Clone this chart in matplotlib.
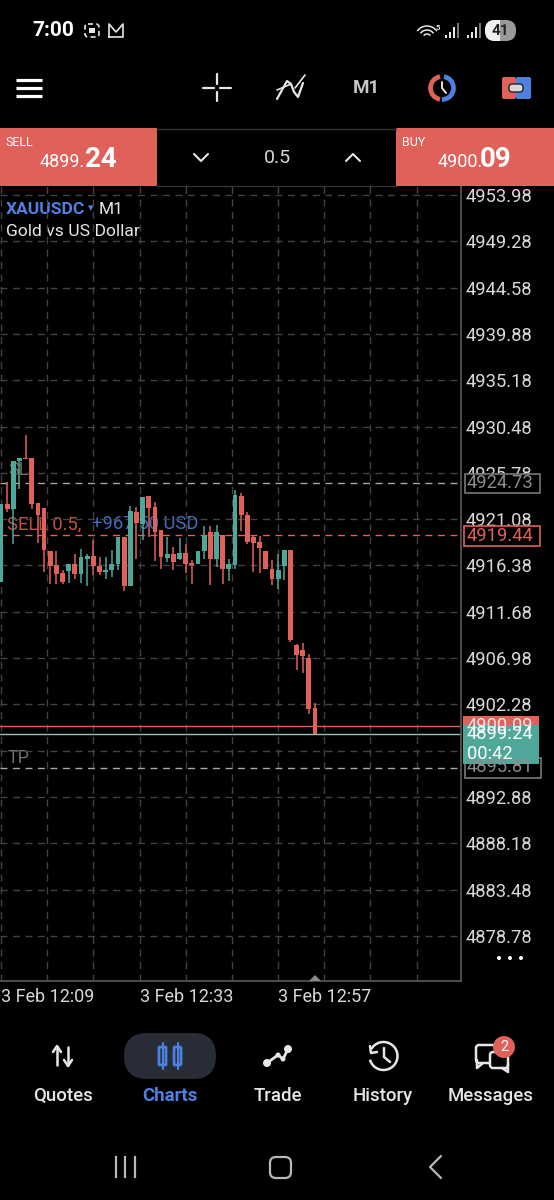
import matplotlib
matplotlib.use('Agg')
import matplotlib.pyplot as plt
from matplotlib.patches import Rectangle, FancyBboxPatch, Circle, Arc, Polygon

plt.rcParams['font.family'] = ['Roboto', 'DejaVu Sans']

# candles, oldest first
opens = [4914.69, 4922.64, 4922.13, 4926.97, 4927.27, 4927.30, 4922.70, 4922.23, 4917.83, 4916.38,
         4915.64, 4915.81, 4916.48, 4915.47, 4917.06, 4917.39, 4916.35, 4915.70, 4915.87, 4916.48,
         4919.25, 4914.28, 4921.79, 4920.61, 4923.38, 4922.30, 4920.00, 4917.16, 4917.56, 4917.06,
         4917.67, 4916.65, 4916.48, 4917.83, 4919.73, 4917.06, 4919.52, 4916.04, 4916.38, 4923.48,
         4921.55, 4919.25, 4918.75, 4917.83, 4916.04, 4914.96, 4916.28, 4917.90, 4908.26, 4907.82,
         4907.01, 4901.94]
closes = [4922.57, 4922.13, 4927.03, 4927.30, 4927.17, 4922.57, 4921.52, 4917.90, 4916.28, 4915.53,
          4914.69, 4916.48, 4915.47, 4917.23, 4917.39, 4916.28, 4915.70, 4915.94, 4916.55, 4919.25,
          4914.28, 4921.89, 4920.71, 4923.31, 4922.23, 4919.76, 4917.23, 4917.50, 4916.72, 4917.67,
          4916.55, 4916.38, 4917.83, 4919.42, 4917.06, 4919.73, 4916.04, 4916.55, 4923.58, 4921.55,
          4918.75, 4918.71, 4918.17, 4916.04, 4914.96, 4915.87, 4917.90, 4908.84, 4907.25, 4907.18,
          4901.77, 4899.24]
highs = [4922.57, 4924.83, 4927.03, 4927.30, 4929.67, 4927.30, 4922.70, 4922.23, 4917.83, 4917.83,
         4915.87, 4916.48, 4917.56, 4918.07, 4917.56, 4918.98, 4917.29, 4917.23, 4917.90, 4919.25,
         4919.25, 4922.37, 4922.30, 4923.31, 4923.38, 4922.80, 4920.00, 4919.25, 4918.24, 4919.19,
         4918.51, 4916.89, 4917.83, 4920.34, 4920.34, 4920.44, 4919.52, 4917.06, 4924.06, 4923.72,
         4921.79, 4919.42, 4919.42, 4917.83, 4916.89, 4917.56, 4918.00, 4917.90, 4908.43, 4908.50,
         4907.35, 4902.45]
lows = [4914.69, 4921.79, 4918.58, 4924.16, 4927.17, 4922.13, 4918.65, 4915.70, 4914.52, 4914.52,
        4914.52, 4914.59, 4915.03, 4914.59, 4914.25, 4915.37, 4915.37, 4915.03, 4915.20, 4915.87,
        4913.78, 4914.28, 4917.06, 4918.98, 4919.25, 4916.82, 4916.04, 4916.72, 4915.94, 4916.95,
        4915.60, 4914.52, 4916.48, 4917.06, 4914.35, 4916.21, 4914.52, 4914.79, 4916.04, 4919.86,
        4918.51, 4915.70, 4915.60, 4916.04, 4914.35, 4914.00, 4914.93, 4908.60, 4905.80, 4905.46,
        4901.33, 4899.24]

price_ticks = [4953.98, 4949.28, 4944.58, 4939.88, 4935.18, 4930.48, 4925.78, 4921.08, 4916.38,
               4911.68, 4906.98, 4902.28, 4897.58, 4892.88, 4888.18, 4883.48, 4878.78]
time_labels = ['3 Feb 12:09', '', '', '3 Feb 12:33', '', '', '3 Feb 12:57', '', '', '']

sl_price = 4924.73
sell_price = 4919.44
ask_price = 4900.09
bid_price = 4899.24
tp_price = 4895.81

RED = '#e0605a'
GREEN = '#4fa79a'
BLUE = '#4f80e0'
WHITE = '#e6e6e6'
GRID = '#424242'
DIM = '#8c8c8c'

W, H = 554, 1200
CHART_R, CHART_T, CHART_B = 461, 186, 981


def pixel_axes(z):
    a = fig.add_axes([0, 0, 1, 1], zorder=z)
    a.set_xlim(0, W)
    a.set_ylim(H, 0)
    a.axis('off')
    a.patch.set_alpha(0)
    return a


fig = plt.figure(figsize=(W / 100, H / 100), dpi=100, facecolor='black')

# texts that the candles run over
bg = pixel_axes(0)
bg.text(6, 209, 'XAUUSDC', color=BLUE, fontsize=12.5, fontweight='bold', va='center')
bg.text(88, 208, '\u25be', color=BLUE, fontsize=8, va='center', family=['DejaVu Sans'])
bg.text(99, 209, 'M1', color=WHITE, fontsize=12.5, va='center')
bg.text(6, 231, 'Gold vs US Dollar', color=WHITE, fontsize=12.6, va='center')
bg.text(8, 470, 'SL', color='#707070', fontsize=13, va='center')
bg.text(7, 524, 'SELL 0.5,', color=RED, fontsize=13.2, va='center', alpha=0.85)
bg.text(92, 524, '+967.50 USD', color=BLUE, fontsize=13.2, va='center', alpha=0.85)
bg.text(8, 758, 'TP', color='#707070', fontsize=13, va='center')

# price chart
ax = fig.add_axes([0, 1 - CHART_B / H, CHART_R / W, (CHART_B - CHART_T) / H], zorder=1)
ax.patch.set_alpha(0)
ax.set_xlim(-0.16, 74.7)
ax.set_ylim(4874.21, 4954.89)

xs = list(range(len(opens)))
colors = [GREEN if c >= o else RED for o, c in zip(opens, closes)]
bottoms = [min(o, c) for o, c in zip(opens, closes)]
heights = [abs(c - o) for o, c in zip(opens, closes)]
ax.vlines(xs, lows, highs, colors=colors, linewidth=1.1, zorder=3)
ax.bar(xs, heights, bottom=bottoms, width=0.78, color=colors, linewidth=0, zorder=4)

ax.axhline(sl_price, color='#a8a8a8', lw=1.0, ls=(0, (5, 4)), zorder=2)
ax.axhline(sell_price, color=RED, lw=1.0, ls=(0, (5, 4)), zorder=2)
ax.axhline(ask_price, color=RED, lw=1.0, zorder=2)
ax.axhline(bid_price, color='#8fc4bb', lw=1.0, zorder=2)
ax.axhline(tp_price, color='#a8a8a8', lw=1.0, ls=(0, (5, 4)), zorder=2)

ax.yaxis.tick_right()
ax.set_yticks(price_ticks, [f'{p:.2f}' for p in price_ticks])
ax.set_xticks([7.5 * k for k in range(len(time_labels))], time_labels)
ax.tick_params(axis='y', length=0, pad=3, labelsize=13.2, labelcolor='#d8d8d8')
ax.tick_params(axis='x', length=0, pad=5, labelsize=13, labelcolor='#d8d8d8')
for lab in ax.get_xticklabels():
    lab.set_ha('left')
ax.grid(True, color=GRID, lw=1.0, ls=(0, (5, 4)), zorder=0)
ax.set_axisbelow(True)
for side in ['top', 'left']:
    ax.spines[side].set_visible(False)
for side in ['right', 'bottom']:
    ax.spines[side].set_color('#5a5a5a')
    ax.spines[side].set_linewidth(1.2)

# app chrome on top
ui = pixel_axes(2)


def box(x0, y0, x1, y1, fc='black', ec='none', lw=1.0):
    ui.add_patch(Rectangle((x0, y0), x1 - x0, y1 - y0, fc=fc, ec=ec, lw=lw))


def line(xv, yv, color=WHITE, lw=1.6):
    ui.plot(xv, yv, color=color, lw=lw, solid_capstyle='round', solid_joinstyle='round')


# status bar
ui.text(32, 30, '7:00', color='white', fontsize=15, fontweight='bold', va='center')
ui.add_patch(FancyBboxPatch((85, 24), 14, 13, boxstyle='round,pad=0,rounding_size=3', fc='none', ec=WHITE, lw=1.2, ls=(0, (3, 2))))
ui.add_patch(Rectangle((89, 28), 6, 5, fc=WHITE))
line([109, 109, 116, 123, 123, 109], [37, 24, 32, 24, 37, 37], lw=1.2)
for r in [4, 8, 12]:
    ui.add_patch(Arc((427, 38), r * 2, r * 2, theta1=215, theta2=325, color=WHITE, lw=1.1))
ui.text(436, 27, '5', color=WHITE, fontsize=5.5, va='center', fontweight='bold')
for x0 in [445, 467]:
    for j, h_bar in enumerate([3, 6, 11, 15]):
        c = WHITE if j < 3 else '#777777'
        ui.add_patch(Rectangle((x0 + j * 4, 38 - h_bar), 1.6, h_bar, fc=c))
ui.add_patch(FancyBboxPatch((485, 20), 31, 21, boxstyle='round,pad=0,rounding_size=10', fc='#9a9a9a', ec='none'))
clip_rect = Rectangle((485, 20), 15, 21, transform=ui.transData)
white_half = FancyBboxPatch((485, 20), 31, 21, boxstyle='round,pad=0,rounding_size=10', fc='#f0f0f0', ec='none')
ui.add_patch(white_half)
white_half.set_clip_path(clip_rect)
ui.text(500.5, 31, '41', color='#222222', fontsize=11, fontweight='bold', ha='center', va='center')

# toolbar
for y in [80, 88, 96]:
    ui.plot([16, 42], [y, y], color='white', lw=2.3, solid_capstyle='butt')
for xv, yv in [([203, 214], [88, 88]), ([220, 231], [88, 88]), ([217, 217], [74, 84]), ([217, 217], [92, 101])]:
    line(xv, yv, lw=1.6)
line([277, 282, 287, 291, 294, 298, 303], [99, 90, 81, 84, 92, 97, 83], lw=1.6)
line([277, 291], [90, 84], lw=1.2)
line([295, 305], [88, 75], lw=1.2)
ui.text(366, 88, 'M1', color='#c8c8c8', fontsize=13.5, fontweight='bold', ha='center', va='center')
ui.add_patch(Arc((442, 88), 23, 23, theta1=100, theta2=260, color=RED, lw=3.4))
ui.add_patch(Arc((442, 88), 23, 23, theta1=-80, theta2=90, color=BLUE, lw=3.4))
line([442, 442, 446], [82, 88, 93], lw=1.4)
ui.add_patch(FancyBboxPatch((502, 77), 14, 22, boxstyle='round,pad=0,rounding_size=2', fc=RED, ec='none'))
ui.add_patch(FancyBboxPatch((516, 77), 15, 22, boxstyle='round,pad=0,rounding_size=2', fc=BLUE, ec='none'))
ui.add_patch(FancyBboxPatch((509, 84), 14, 8, boxstyle='round,pad=0,rounding_size=3', fc='#d8d8d8', ec='#222222', lw=1))

# order bar
box(0, 128, 157, 186, fc=RED)
box(396, 128, 554, 186, fc=RED)
ui.plot([157, 396], [128.5, 128.5], color='#333333', lw=1)
ui.plot([157, 396], [185.5, 185.5], color='#333333', lw=1)
ui.text(6, 142, 'SELL', color='white', fontsize=9, va='center')
ui.text(402, 142, 'BUY', color='white', fontsize=9, va='center')
ui.text(40, 167, '4899.', color='white', fontsize=13, va='baseline')
ui.text(85, 167, '24', color='white', fontsize=20, fontweight='bold', va='baseline')
ui.text(438, 167, '4900.', color='white', fontsize=13, va='baseline')
ui.text(480, 167, '09', color='white', fontsize=20, fontweight='bold', va='baseline')
ui.text(277, 158, '0.5', color='#d8d8d8', fontsize=14, ha='center', va='center')
line([194, 201, 208], [154, 161, 154], lw=1.5)
line([346, 353, 360], [161, 154, 161], lw=1.5)

# price boxes
box(465, 474, 540, 493, ec='#777777', lw=1.2)
ui.text(467, 483.5, f'{sl_price:.2f}', color=DIM, fontsize=13.2, va='center')
box(464, 526, 540, 546, ec=RED, lw=1.2)
ui.text(467, 536, f'{sell_price:.2f}', color=RED, fontsize=13.2, va='center')
box(465, 758, 541, 778, ec='#777777', lw=1.2)
ui.text(467, 767, f'{tp_price:.2f}', color=DIM, fontsize=13.2, va='center')
box(463, 716, 539, 736, fc=RED)
ui.text(467, 726, f'{ask_price:.2f}', color=WHITE, fontsize=13.2, va='center')
box(463, 725, 539, 764, fc=GREEN)
ui.text(467, 734, f'{bid_price:.2f}', color='white', fontsize=13.2, va='center')
ui.text(467, 754, '00:42', color='white', fontsize=13.2, va='center')

ui.add_patch(Polygon([[309, 981], [315, 975], [321, 981]], fc='#8a8a8a', ec='none'))
ui.add_patch(Circle((499, 958), 2, fc='white'))
ui.add_patch(Circle((510, 958), 2, fc='white'))
ui.add_patch(Circle((521, 958), 2, fc='white'))

# bottom navigation
ui.add_patch(FancyBboxPatch((124, 1033), 92, 46, boxstyle='round,pad=0,rounding_size=23', fc='#272c36', ec='none'))
for x_lab, name, col in [(62.5, 'Quotes', WHITE), (169.5, 'Charts', BLUE), (277.5, 'Trade', WHITE),
                         (383, 'History', WHITE), (491, 'Messages', WHITE)]:
    ui.text(x_lab, 1101, name, color=col, fontsize=13.4, fontweight='bold' if col == BLUE else 'medium',
            ha='center', va='baseline')

line([57, 57], [1047, 1065], lw=1.8)
line([53, 57, 61], [1052, 1046, 1052], lw=1.8)
line([68, 68], [1047, 1065], lw=1.8)
line([64, 68, 72], [1060, 1066, 1060], lw=1.8)

for xc in [162.5, 177.5]:
    line([xc, xc], [1043, 1069], color=BLUE, lw=1.5)
    ui.add_patch(FancyBboxPatch((xc - 3.5, 1047), 7, 18, boxstyle='round,pad=0,rounding_size=1', fc='none', ec=BLUE, lw=2))

line([267, 278, 283, 288], [1063, 1055, 1059, 1049], lw=2)
for xc, yc, r in [(267, 1063, 4), (278, 1055, 2.5), (283, 1059, 2.5), (288, 1049, 4)]:
    ui.add_patch(Circle((xc, yc), r, fc=WHITE))

ui.add_patch(Arc((383.5, 1056), 28, 28, theta1=-150, theta2=165, color=WHITE, lw=1.8))
line([370, 371, 377], [1046, 1053, 1052], lw=1.8)
line([384, 384, 390], [1048, 1057, 1062], lw=1.8)

ui.add_patch(FancyBboxPatch((476, 1045), 22, 18, boxstyle='round,pad=0,rounding_size=3', fc='none', ec=WHITE, lw=1.8))
line([477, 477, 483], [1060, 1068, 1063], lw=1.8)
ui.add_patch(FancyBboxPatch((490, 1052), 18, 16, boxstyle='round,pad=0,rounding_size=3', fc='black', ec=WHITE, lw=1.8))
line([508, 508, 502], [1064, 1072, 1068], lw=1.8)
ui.add_patch(Circle((504, 1047), 11, fc=RED))
ui.text(504, 1047, '2', color='white', fontsize=10.5, ha='center', va='center')

# android keys
for xb in [115.5, 125, 134.5]:
    ui.plot([xb, xb], [1157, 1177], color='#b8b8b8', lw=1.6)
ui.add_patch(FancyBboxPatch((270, 1157), 21, 21, boxstyle='round,pad=0,rounding_size=6', fc='none', ec='#b8b8b8', lw=1.6))
line([441, 430, 441], [1156, 1167, 1178], color='#b8b8b8', lw=1.6)

fig.savefig('out.png', dpi=100, facecolor='black')
